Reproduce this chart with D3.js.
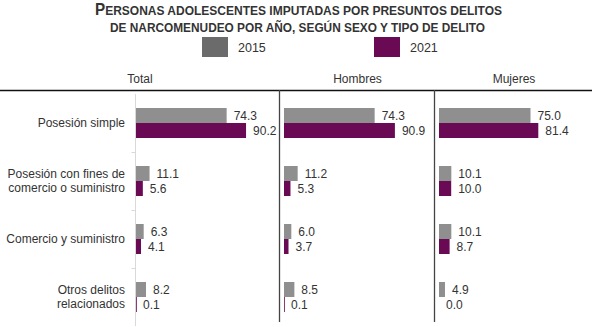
<html>
<head>
<script src="https://d3js.org/d3.v7.min.js"></script>
<style>
  body { margin: 0; background: #fff; }
  text { font-family: "Liberation Sans", Arial, sans-serif; fill: #333; }
</style>
</head>
<body>
<script>
    // data (percent)
    var categories = ['Posesión simple', 'Posesión con fines de comercio o suministro', 'Comercio y suministro', 'Otros delitos relacionados']
    var categoryLines = [['Posesión simple'], ['Posesión con fines de', 'comercio o suministro'], ['Comercio y suministro'], ['Otros delitos', 'relacionados']]
    var years = ['2015', '2021']
    var panels = ['Total', 'Hombres', 'Mujeres']
    var total2015 = [74.3, 11.1, 6.3, 8.2]
    var total2021 = [90.2, 5.6, 4.1, 0.1]
    var hombres2015 = [74.3, 11.2, 6.0, 8.5]
    var hombres2021 = [90.9, 5.3, 3.7, 0.1]
    var mujeres2015 = [75.0, 10.1, 10.1, 4.9]
    var mujeres2021 = [81.4, 10.0, 8.7, 0.0]

    var series = {
        'Total': [total2015, total2021],
        'Hombres': [hombres2015, hombres2021],
        'Mujeres': [mujeres2015, mujeres2021]
    }

    var width = 592, height = 327
    var barColor = {'2015': '#8f8f8f', '2021': '#6a0a55'}
    var legendColor = {'2015': '#6b6b6b', '2021': '#6a0a55'}

    var svg = d3.select('body').append('svg').attr('width', width).attr('height', height)

    // title (small caps look)
    var t1 = svg.append('text').attr('x', 95).attr('y', 15)
        .attr('textLength', 407).attr('lengthAdjust', 'spacingAndGlyphs')
        .style('font-weight', 'bold').style('font-size', '13px')
    t1.append('tspan').text('P').style('font-size', '16.5px')
    t1.append('tspan').text('ERSONAS ADOLESCENTES IMPUTADAS POR PRESUNTOS DELITOS')
    svg.append('text').attr('x', 110).attr('y', 32)
        .attr('textLength', 375).attr('lengthAdjust', 'spacingAndGlyphs')
        .style('font-weight', 'bold').style('font-size', '13px')
        .text('DE NARCOMENUDEO POR AÑO, SEGÚN SEXO Y TIPO DE DELITO')

    // legend
    var legendX = d3.scalePoint().domain(years).range([202, 374])
    var lg = svg.selectAll('.legend').data(years).enter().append('g')
        .attr('transform', function(d){ return `translate(${legendX(d)},37)` })
    lg.append('rect').attr('width', 26).attr('height', 20).attr('fill', function(d){ return legendColor[d] })
    lg.append('text').attr('x', 36).attr('y', 14.5).style('font-size', '12.5px').text(function(d){ return d })

    // panels
    var panelLeft = {'Total': 0, 'Hombres': 279, 'Mujeres': 434}
    var panelRight = {'Total': 279, 'Hombres': 434, 'Mujeres': 592}
    var barStart = {'Total': 136, 'Hombres': 284, 'Mujeres': 439}

    var x = d3.scaleLinear().domain([0, 100]).range([0, 122])
    var y = d3.scaleBand().domain(categories).range([94, 326]).padding(0)
    var y1 = d3.scaleBand().domain(years).range([14, 44]).padding(0)

    panels.forEach(function(p){
        var cx = p == 'Total' ? 140 : (panelLeft[p] + panelRight[p]) / 2 + 1
        svg.append('text').attr('x', cx).attr('y', 83).attr('text-anchor', 'middle')
            .style('font-size', '12px').text(p)
    })

    // total panel axis with category ticks
    var axis = d3.axisLeft(y).tickSize(4).tickFormat('')
    var ag = svg.append('g').attr('transform', 'translate(135.5,0)').call(axis)
    ag.select('.domain').attr('stroke', '#d9d9d9').attr('d', 'M0,94V326')
    ag.selectAll('.tick').remove()
    y.domain().slice(1).forEach(function(c){
        ag.append('line').attr('x1', -4).attr('x2', 0)
            .attr('y1', y(c) + 0.5).attr('y2', y(c) + 0.5).attr('stroke', '#d9d9d9')
    })

    // category labels
    var cl = svg.selectAll('.cat').data(categories).enter().append('text')
        .attr('text-anchor', 'end').style('font-size', '12px')
        .attr('transform', function(d){ return `translate(125,${y(d) + y.bandwidth() / 2})` })
    cl.each(function(d, i){
        var lines = categoryLines[i]
        var sel = d3.select(this)
        lines.forEach(function(l, j){
            sel.append('tspan').attr('x', 0)
                .attr('y', (j - (lines.length - 1) / 2) * 14 + 4)
                .text(l)
        })
    })

    // bars and value labels
    panels.forEach(function(p){
        var g = svg.append('g').attr('transform', `translate(${barStart[p]},0)`)
        years.forEach(function(yr, k){
            var vals = series[p][k]
            g.selectAll('.bar' + yr).data(vals).enter().append('rect')
                .attr('x', 0)
                .attr('y', function(d, i){ return y(categories[i]) + y1(yr) })
                .attr('width', function(d){ return Math.max(x(d), d > 0 ? 0.8 : 0) })
                .attr('height', y1.bandwidth())
                .attr('fill', barColor[yr])
            g.selectAll('.lab' + yr).data(vals).enter().append('text')
                .attr('x', function(d){ return x(d) + 7 })
                .attr('y', function(d, i){ return y(categories[i]) + y1(yr) + y1.bandwidth() / 2 + 4.5 })
                .style('font-size', '12px')
                .text(function(d){ return d3.format('.1f')(d) })
        })
    })

    // frame lines
    svg.append('line').attr('x1', 0).attr('x2', width).attr('y1', 90.5).attr('y2', 90.5)
        .attr('stroke', '#111').attr('stroke-width', 1.3)
    ;[279, 434].forEach(function(v){
        svg.append('line').attr('x1', v + 0.5).attr('x2', v + 0.5).attr('y1', 90).attr('y2', 322)
            .attr('stroke', '#444').attr('stroke-width', 1.3)
    })
</script>
</body>
</html>
